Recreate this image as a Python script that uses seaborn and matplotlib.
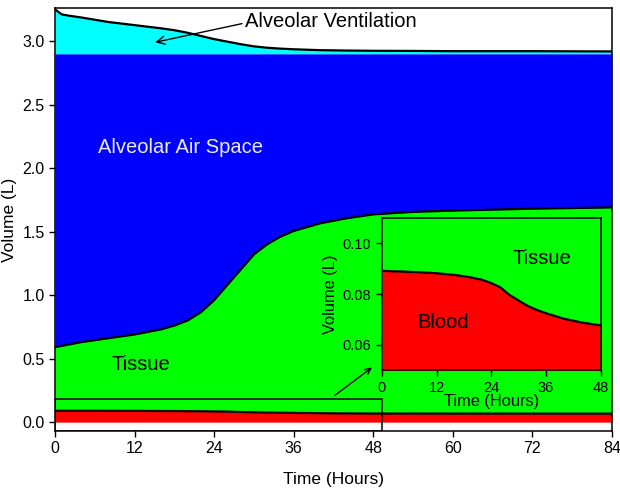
import matplotlib
matplotlib.use("Agg")
import matplotlib.pyplot as plt
import seaborn as sns
import pandas as pd
from matplotlib.patches import Rectangle

# values (hours, litres)
hours = [0, 1, 2, 4, 8, 12, 16, 18, 20, 22, 24, 26, 28, 30, 32, 34, 36,
         40, 44, 48, 54, 60, 72, 84]
ventilation = [3.25, 3.21, 3.20, 3.185, 3.15, 3.125, 3.10, 3.085, 3.065, 3.04,
               3.015, 2.995, 2.975, 2.958, 2.947, 2.94, 2.935, 2.928, 2.925,
               2.923, 2.922, 2.92, 2.92, 2.918]
tissue = [0.59, 0.60, 0.61, 0.63, 0.66, 0.69, 0.73, 0.76, 0.80, 0.865, 0.96,
          1.08, 1.20, 1.32, 1.40, 1.46, 1.505, 1.565, 1.605, 1.635, 1.655,
          1.665, 1.68, 1.69]
blood = [0.0891, 0.0891, 0.089, 0.0889, 0.0886, 0.0882, 0.0875, 0.087, 0.0864,
         0.0856, 0.0843, 0.0826, 0.0796, 0.0774, 0.0753, 0.0737, 0.0724,
         0.0702, 0.0687, 0.0676, 0.0673, 0.0671, 0.0669, 0.0668]
airspace_top = 2.9

main_xticks = [0, 12, 24, 36, 48, 60, 72, 84]
main_yticks = [0.0, 0.5, 1.0, 1.5, 2.0, 2.5, 3.0]
inset_xticks = [0, 12, 24, 36, 48]
inset_yticks = [0.06, 0.08, 0.10]

df = pd.DataFrame({"hours": hours, "ventilation": ventilation,
                   "tissue": tissue, "blood": blood})

BLUE, GREEN, RED, CYAN = "#0000ff", "#00ff00", "#ff0000", "#00ffff"

sns.set_style("ticks")
plt.rcParams["font.family"] = ["Liberation Sans", "DejaVu Sans"]
plt.rcParams["text.color"] = "black"
plt.rcParams["axes.labelcolor"] = "black"

fig = plt.figure(figsize=(6.2, 4.9), dpi=100)
ax = fig.add_axes([0.0887, 0.1204, 0.8983, 0.8633])

# stacked compartments
ax.fill_between(df.hours, 0, df.blood, color=RED, lw=0)
ax.fill_between(df.hours, df.blood, df.tissue, color=GREEN, lw=0)
ax.fill_between(df.hours, df.tissue, airspace_top, color=BLUE, lw=0)
ax.fill_between(df.hours, airspace_top, df.ventilation, color=CYAN, lw=0)
for col in ["blood", "tissue", "ventilation"]:
    sns.lineplot(data=df, x="hours", y=col, ax=ax, color="black", lw=1.6)

ax.add_patch(Rectangle((0, -0.07), 49.3, 0.25, fill=False, ec="black", lw=1.1,
                       zorder=5))

ax.set_xlim(0, 84)
ax.set_ylim(-0.07, 3.26)
ax.set_xticks(main_xticks)
ax.set_yticks(main_yticks)
ax.set_yticklabels([f"{v:.1f}" for v in main_yticks])
ax.tick_params(labelsize=11.5, length=4, width=1, colors="black")
ax.set_xlabel("Time (Hours)", fontsize=12.5, labelpad=11)
ax.set_ylabel("Volume (L)", fontsize=12.5, labelpad=4)
for sp in ax.spines.values():
    sp.set_linewidth(1.1)
    sp.set_color("black")

ax.text(6.5, 2.165, "Alveolar Air Space", color="#ececff", fontsize=14.5,
        va="center")
ax.text(8.5, 0.45, "Tissue", fontsize=14.5, va="center")
ax.annotate("Alveolar Ventilation", xy=(15.1, 2.99), xytext=(28.7, 3.15),
            fontsize=14.5, va="center",
            arrowprops=dict(arrowstyle="->", color="black", lw=1,
                            shrinkA=0, shrinkB=0,
                            relpos=(0, 0.45)))
ax.annotate("", xy=(47.8, 0.43), xytext=(42.2, 0.21),
            arrowprops=dict(arrowstyle="->", color="black", lw=1,
                            shrinkA=0, shrinkB=0))

# inset: blood vs tissue over the first 48 h
ins = fig.add_axes([0.616, 0.2449, 0.353, 0.3102])
ins.set_facecolor(GREEN)
ins.fill_between(df.hours, 0.0, df.blood, color=RED, lw=0)
sns.lineplot(data=df, x="hours", y="blood", ax=ins, color="black", lw=1.6)
ins.set_xlim(0, 48)
ins.set_ylim(0.05, 0.11)
ins.set_xticks(inset_xticks)
ins.set_yticks(inset_yticks)
ins.set_yticklabels([f"{v:.2f}" for v in inset_yticks])
ins.tick_params(labelsize=10.5, length=4, width=1, colors="black", pad=4)
ins.set_xlabel("Time (Hours)", fontsize=11.8, labelpad=-1)
ins.set_ylabel("Volume (L)", fontsize=11.8, labelpad=3)
for sp in ins.spines.values():
    sp.set_linewidth(1.1)
    sp.set_color("black")
ins.text(28.7, 0.094, "Tissue", fontsize=14.5, va="center")
ins.text(7.7, 0.0686, "Blood", fontsize=14.5, va="center")

fig.savefig("out.png", dpi=100)
